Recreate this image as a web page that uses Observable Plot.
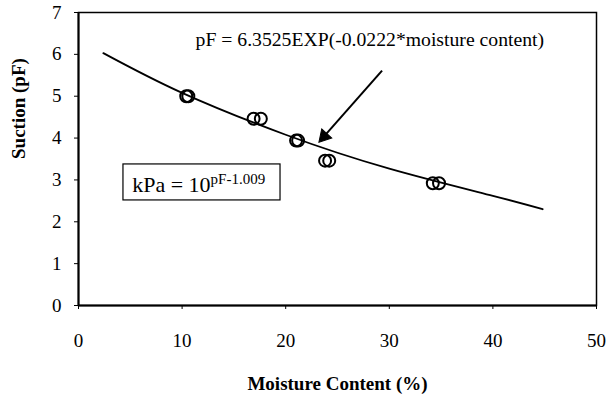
<!DOCTYPE html>
<html>
<head>
<meta charset="utf-8">
<script src="https://cdn.jsdelivr.net/npm/d3@7"></script>
<script src="https://cdn.jsdelivr.net/npm/@observablehq/plot@0.6"></script>
<style>
  html, body { margin: 0; padding: 0; background: #fff; }
  #chart svg { display: block; }
  #chart svg text { font-family: "Liberation Serif", "Times New Roman", serif; }
</style>
</head>
<body>
<div id="chart"></div>
<script>
// Measured data points (moisture content %, suction pF)
const moisture = [10.4, 10.6, 16.9, 17.6, 21.0, 21.2, 23.8, 24.2, 34.2, 34.8];
const suction  = [5.0, 5.0, 4.46, 4.46, 3.94, 3.94, 3.46, 3.46, 2.92, 2.92];

// Fitted curve
const fitMoisture = [2.4, 10, 20, 30, 40, 44.8];
const fitSuction  = [6.03, 5.08, 4.08, 3.27, 2.62, 2.3];

// Tick labels
const xTicks = [0, 10, 20, 30, 40, 50];
const yTicks = [0, 1, 2, 3, 4, 5, 6, 7];

// Annotation texts
const equationText = "pF = 6.3525EXP(-0.0222*moisture content)";
const kpaText = "kPa = 10";
const kpaExponent = "pF-1.009";
const xTitle = "Moisture Content (%)";
const yTitle = "Suction (pF)";

const points = moisture.map((m, i) => ({m, s: suction[i]}));
const fit = fitMoisture.map((m, i) => ({m, s: fitSuction[i]}));

const font = "Liberation Serif, Times New Roman, serif";

const chart = Plot.plot({
  width: 608,
  height: 396,
  marginLeft: 78,
  marginRight: 12,
  marginTop: 12,
  marginBottom: 91,
  style: {fontFamily: font, fontSize: "19px", color: "#000", background: "#fff"},
  x: {domain: [0, 50], label: null},
  y: {domain: [0, 7], label: null},
  marks: [
    Plot.axisX({ticks: xTicks, tickSize: 4, tickPadding: 24, tickFormat: d3.format("d"),
      label: null, fontSize: 19, fontFamily: font, stroke: "#000"}),
    Plot.axisY({ticks: yTicks, tickSize: 4, tickPadding: 13, tickFormat: d3.format("d"),
      label: null, fontSize: 19, fontFamily: font, stroke: "#000"}),
    Plot.frame({stroke: "#000", strokeWidth: 1.5}),
    Plot.ruleX([0], {stroke: "#000", strokeWidth: 2}),
    Plot.ruleY([0], {stroke: "#000", strokeWidth: 2}),
    Plot.line(fit, {x: "m", y: "s", curve: "natural", stroke: "#000", strokeWidth: 1.8}),
    Plot.dot(points, {x: "m", y: "s", r: 6, stroke: "#000", strokeWidth: 2, fill: "none"}),
    Plot.link([{x1: 29.3, y1: 5.61, x2: 23.7, y2: 4.04}], {
      x1: "x1", y1: "y1", x2: "x2", y2: "y2", stroke: "#000", strokeWidth: 2
    }),
    Plot.dot([{x: 23.71, y: 4.04}], {
      x: "x", y: "y", symbol: "triangle", r: 5, rotate: 222, fill: "#000", stroke: "#000", strokeWidth: 1
    }),
    Plot.text([equationText], {
      x: 11.3, y: 6.36, text: d => d, textAnchor: "start", lineAnchor: "middle",
      fontSize: 19.7, fontFamily: font, fill: "#000"
    }),
    Plot.rect([{x1: 4.34, x2: 19.5, y1: 2.51, y2: 3.37}], {
      x1: "x1", x2: "x2", y1: "y1", y2: "y2", fill: "#fff", stroke: "#000", strokeWidth: 1.2
    }),
    Plot.text([kpaText], {
      x: 5.18, y: 2.88, text: d => d, textAnchor: "start", lineAnchor: "middle",
      fontSize: 22, fontFamily: font, fill: "#000"
    }),
    Plot.text([xTitle], {
      frameAnchor: "bottom", dy: 78, text: d => d, lineAnchor: "middle",
      fontWeight: "bold", fontSize: 19, fontFamily: font, fill: "#000"
    }),
    Plot.text([yTitle], {
      frameAnchor: "left", dx: -60, rotate: -90, text: d => d, lineAnchor: "middle",
      fontWeight: "bold", fontSize: 19, fontFamily: font, fill: "#000"
    })
  ]
});

// Add the exponent as a superscript tspan on the kPa label
d3.select(chart).selectAll("text")
  .filter(function() { return this.textContent === kpaText; })
  .append("tspan")
  .attr("dy", "-0.5em")
  .attr("font-size", 15)
  .text(kpaExponent);

document.getElementById("chart").appendChild(chart);
</script>
</body>
</html>
